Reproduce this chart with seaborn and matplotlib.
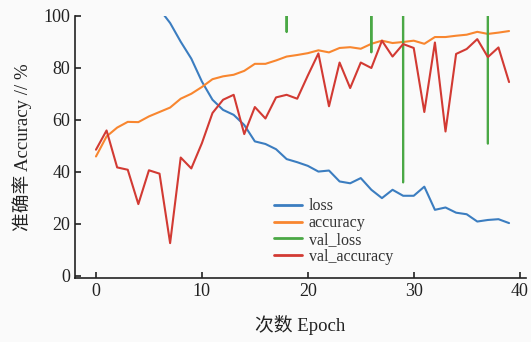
import numpy as np
import pandas as pd
import seaborn as sns
import matplotlib
matplotlib.use("Agg")
import matplotlib.pyplot as plt

epochs = list(range(40))
loss = [310, 240, 190, 160, 135, 118, 102.5, 97.2, 90.0, 83.5,
        74.7, 67.7, 63.8, 61.9, 58.0, 51.7, 50.7, 48.7, 44.9, 43.7,
        42.3, 40.1, 40.5, 36.3, 35.6, 37.6, 33.1, 29.9, 33.1, 30.8,
        30.8, 34.3, 25.4, 26.3, 24.3, 23.7, 20.9, 21.5, 21.8, 20.3]
accuracy = [45.9, 53.6, 57.0, 59.2, 59.1, 61.3, 63.0, 64.7, 68.1, 70.0,
            72.6, 75.6, 76.7, 77.3, 78.8, 81.5, 81.5, 82.8, 84.3, 84.9,
            85.6, 86.7, 85.9, 87.6, 87.9, 87.3, 89.2, 90.4, 89.5, 89.9,
            90.4, 89.2, 91.8, 91.8, 92.3, 92.7, 93.8, 93.0, 93.5, 94.1]
val_loss = [4200, 3900, 5100, 3600, 4800, 4100, 3700, 5300, 4400, 3800,
            4600, 3900, 4300, 5000, 3600, 4700, 4100, 3800, 93.7, 4500,
            3900, 4200, 5200, 3700, 4400, 4000, 85.9, 4600, 3800, 35.9,
            4300, 5000, 3900, 4100, 4700, 3600, 4200, 50.8, 4500, 3900]
val_accuracy = [48.5, 55.9, 41.7, 40.8, 27.6, 40.6, 39.3, 12.6, 45.5, 41.3,
                51.0, 62.6, 67.7, 69.6, 54.5, 64.9, 60.5, 68.6, 69.6, 68.1,
                77.0, 85.5, 65.2, 82.0, 72.2, 82.0, 79.9, 90.4, 84.3, 89.1,
                87.6, 63.0, 89.7, 55.5, 85.3, 87.2, 91.0, 84.1, 87.8, 74.5]

series_names = ["loss", "accuracy", "val_loss", "val_accuracy"]
colors = ["#3b7dc0", "#f8862f", "#4aa845", "#d23a33"]

df = pd.DataFrame({"epoch": epochs * 4,
                   "value": loss + accuracy + val_loss + val_accuracy,
                   "series": sum([[n] * 40 for n in series_names], [])})

sns.set_style("ticks")
plt.rcParams['font.family'] = ['Liberation Serif', 'Noto Sans CJK SC']
plt.rcParams['axes.unicode_minus'] = False

fig = plt.figure(figsize=(5.31, 3.42), dpi=100, facecolor="#fafafa")
ax = fig.add_axes([75/531, 64/342, 451/531, (278-15.7)/342])
ax.set_facecolor("#fafafa")

sns.lineplot(data=df, x="epoch", y="value", hue="series",
             hue_order=series_names, palette=colors, linewidth=1.5,
             ax=ax, legend=False)

ax.set_xlim(-1.98, 40.6)
ax.set_ylim(-0.8, 100)
ax.set_xticks([0, 10, 20, 30, 40])
ax.set_yticks([0, 20, 40, 60, 80, 100])
ax.tick_params(direction="in", length=4, width=1.2, labelsize=13, colors="#222222")
for s in ["top", "right"]:
    ax.spines[s].set_visible(False)
for s in ["left", "bottom"]:
    ax.spines[s].set_linewidth(1.2)
    ax.spines[s].set_color("#222222")

ax.set_xlabel("次数 Epoch", fontsize=13.5, color="#222222", labelpad=11)
ax.set_ylabel("准确率 Accuracy // %", fontsize=13.5, color="#222222", labelpad=8)

handles = [plt.Line2D([], [], color=c, lw=2.0) for c in colors]
leg = ax.legend(handles, series_names, loc="upper left",
                bbox_to_anchor=((268-75)/451, (278-192)/262.3),
                frameon=False, fontsize=11.5, handlelength=1.7,
                handletextpad=0.45, labelspacing=0.05, borderaxespad=0)
for t in leg.get_texts():
    t.set_color("#333333")

fig.savefig("out.png", dpi=100, facecolor=fig.get_facecolor())
